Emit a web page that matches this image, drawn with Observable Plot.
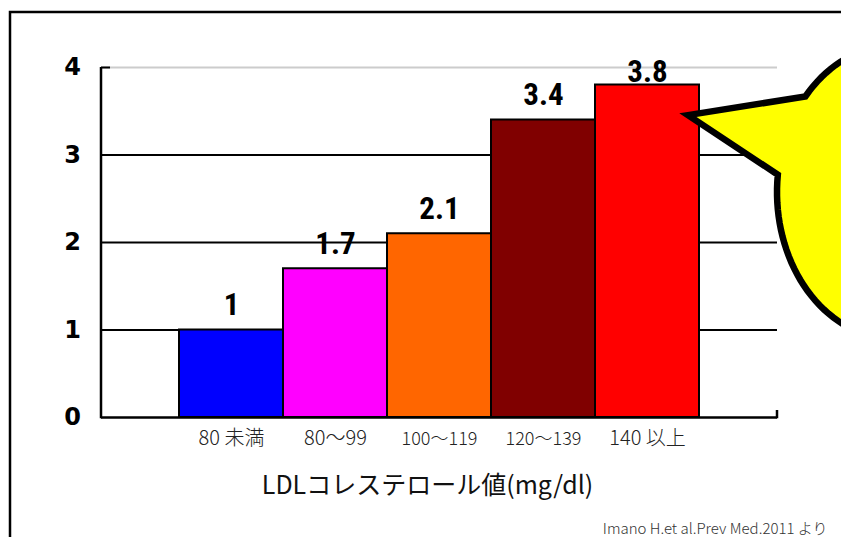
<!DOCTYPE html>
<html><head><meta charset="utf-8">
<script src="https://cdn.jsdelivr.net/npm/d3@7"></script>
<script src="https://cdn.jsdelivr.net/npm/@observablehq/plot@0.6"></script>
<style>body{margin:0;background:#fff}</style>
</head><body><div id="chart"></div>
<script>
const categories = ["80 未満", "80～99", "100～119", "120～139", "140 以上"];
const values = [1, 1.7, 2.1, 3.4, 3.8];
const barColors = ["#0000ff", "#ff00ff", "#ff6600", "#800000", "#ff0000"];
const yTicks = [0, 1, 2, 3, 4];
const xTitle = "LDLコレステロール値(mg/dl)";
const caption = "Imano H.et al.Prev Med.2011 より";

const data = categories.map((c, i) => ({category: c, value: values[i]}));
const W = 841, H = 537;
const mL = 101, mR = 64, mT = 67, mB = 120;
const maxV = d3.max(values);
const gothic = "'Noto Sans CJK JP', 'DejaVu Sans', sans-serif";
const narrow = "'Roboto Condensed', 'Liberation Sans Narrow', Roboto, sans-serif";

const chart = Plot.plot({
  width: W, height: H,
  marginLeft: mL, marginRight: mR, marginTop: mT, marginBottom: mB,
  style: {background: "#fff", fontFamily: "'Liberation Sans', Arial, sans-serif", color: "#000"},
  x: {domain: categories, paddingInner: 0, paddingOuter: 0.75, axis: null},
  y: {domain: [0, 4], axis: null},
  color: {domain: categories, range: barColors},
  marks: [
    Plot.ruleY([4], {stroke: "#cccccc", strokeWidth: 2}),
    Plot.ruleY([4], {stroke: "#000", strokeWidth: 2, insetRight: W - mL - mR - 9}),
    Plot.ruleY(yTicks.filter(t => t > 0 && t < 4), {stroke: "#000", strokeWidth: 2}),
    Plot.barY(data, {x: "category", y: "value", fill: "category", stroke: "#000", strokeWidth: 2}),
    Plot.ruleY([0], {stroke: "#000", strokeWidth: 2.5}),
    // y tick labels
    Plot.text(yTicks, {y: d => d, frameAnchor: "left", dx: -29, textAnchor: "middle", text: d => String(d),
      fontSize: 24, fontWeight: "bold", fontFamily: "'DejaVu Sans', sans-serif"}),
    // value labels
    Plot.text(data, {filter: d => d.value < maxV, x: "category", y: "value", text: d => String(d.value),
      lineAnchor: "bottom", dy: -15, fontSize: 31, fontWeight: "bold", fontFamily: narrow}),
    Plot.text(data, {filter: d => d.value === maxV, x: "category", y: "value", text: d => String(d.value),
      lineAnchor: "bottom", dy: -3, fontSize: 31, fontWeight: "bold", fontFamily: narrow}),
    // category labels
    Plot.text(data, {x: "category", frameAnchor: "bottom", dy: 27, text: "category", ariaLabel: "xcat",
      fontSize: d => /^\d{3}～/.test(d.category) ? 18 : 20, fontFamily: gothic, fontWeight: 300,
      fill: "#222"}),
    Plot.text([xTitle], {frameAnchor: "bottom", dy: 76, dx: -12, text: d => d, fontSize: 25,
      fontFamily: gothic, fill: "#111"}),
    Plot.text([caption], {frameAnchor: "bottom-right", textAnchor: "end", dx: 50, dy: 116, text: d => d,
      fontSize: 15, fontFamily: gothic, fontWeight: 300, fill: "#333"})
  ]
});

const svg = d3.select(chart);
svg.selectAll('g[aria-label="xcat"] text').style("letter-spacing", "2px");
const sx = chart.scale("x"), sy = chart.scale("y");
const y0 = sy.apply(0), y4 = sy.apply(4);

// outer slide frame
svg.insert("rect", "g").attr("x", 10).attr("y", 12).attr("width", W + 20).attr("height", H + 20)
  .attr("fill", "none").attr("stroke", "#000").attr("stroke-width", 2.5);
// y axis line and right end tick
svg.append("line").attr("x1", mL).attr("x2", mL).attr("y1", y4).attr("y2", y0 + 1.25)
  .attr("stroke", "#000").attr("stroke-width", 2.5);
svg.append("line").attr("x1", W - mR).attr("x2", W - mR).attr("y1", y0 - 7).attr("y2", y0 + 1.25)
  .attr("stroke", "#000").attr("stroke-width", 2.5);

// speech bubble callout pointing at the last bar
const last = categories[categories.length - 1];
const tip = [sx.apply(last) + sx.bandwidth - 11, sy.apply(3.45)];
const cx = W + 54, cy = sy.apply(2.57), rx = 118, ry = 147;
const t1 = -139.4 * Math.PI / 180, t2 = (360 - 173.2) * Math.PI / 180;
const pts = [tip];
const n = 120;
for (let i = 0; i <= n; i++) {
  const t = t1 + (t2 - t1) * i / n;
  pts.push([cx + rx * Math.cos(t), cy + ry * Math.sin(t)]);
}
svg.append("path").attr("d", d3.line()(pts) + "Z")
  .attr("fill", "#ffff00").attr("stroke", "#000").attr("stroke-width", 6.5)
  .attr("stroke-linejoin", "miter");

document.getElementById("chart").appendChild(chart);
</script>
</body></html>
